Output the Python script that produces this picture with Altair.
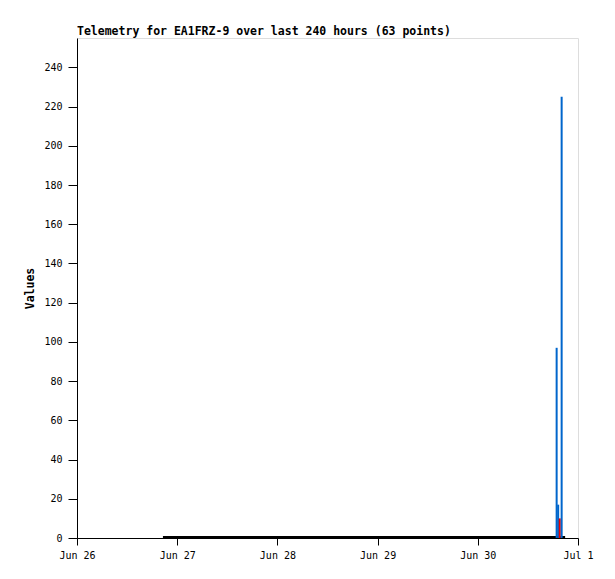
import altair as alt
import pandas as pd

# near-zero black series (drawn as a flat line just above the axis)
black_times = ["2024-06-26T20:35", "2024-06-27T10:00", "2024-06-28T02:00", "2024-06-28T18:00",
               "2024-06-29T10:00", "2024-06-30T02:00", "2024-06-30T14:00", "2024-06-30T20:55"]
black_values = [0.5, 0.5, 0.5, 0.5, 0.5, 0.5, 0.5, 0.5]

# impulse series
bar_times = ["2024-06-30T18:53", "2024-06-30T19:15", "2024-06-30T19:38", "2024-06-30T20:05"]
bar_values = [97, 17, 10, 225]
bar_series = ["blue", "blue", "red", "blue"]

colors = {"blue": "#0066cc", "red": "#ee0000"}

black_df = pd.DataFrame({"t": black_times, "v": black_values})
bar_df = pd.DataFrame({"t": bar_times, "v": bar_values, "s": bar_series})

FONT = "DejaVu Sans Mono"

x_dom = [alt.DateTime(year=2024, month=6, date=26), alt.DateTime(year=2024, month=7, date=1)]
x_vals = [alt.DateTime(year=2024, month=6, date=d) for d in range(26, 31)] + [alt.DateTime(year=2024, month=7, date=1)]

xenc = alt.X("t:T", scale=alt.Scale(domain=x_dom),
             axis=alt.Axis(values=x_vals, format="%b %-d", title=None, grid=False,
                           tickSize=7, labelPadding=5, domainColor="black", tickColor="black",
                           labelAlign="center", labelFlush=False,
                           labelFont=FONT, labelFontSize=10, labelColor="black"))
yenc = alt.Y("v:Q", scale=alt.Scale(domain=[0, 255], nice=False),
             axis=alt.Axis(values=list(range(0, 241, 20)), title="Values", grid=False,
                           tickSize=9, labelPadding=6, domainColor="black", tickColor="black",
                           labelFont=FONT, labelFontSize=10, labelColor="black",
                           titleFont=FONT, titleFontSize=11.5, titleFontWeight="bold",
                           titleColor="black", titlePadding=8))

line = alt.Chart(black_df).mark_line(color="black", strokeWidth=2, clip=True).encode(
    x=xenc, y=yenc)

bars = alt.Chart(bar_df).mark_rule(strokeWidth=2).encode(
    x=alt.X("t:T"),
    y=alt.Y("v:Q"),
    y2=alt.datum(0),
    color=alt.Color("s:N", scale=alt.Scale(domain=list(colors.keys()), range=list(colors.values())),
                    legend=None),
)

chart = alt.layer(line, bars).properties(
    width=501, height=500,
    title=alt.Title("Telemetry for EA1FRZ-9 over last 240 hours (63 points)",
                    anchor="start", frame="group", font=FONT, fontSize=11.5, fontWeight="bold",
                    color="black", offset=1),
    autosize=alt.AutoSizeParams(type="none"),
    padding={"left": 69, "top": 30, "right": 29, "bottom": 33},
).configure_view(stroke="#444444", strokeWidth=1).configure(background="white")

chart.save("out.html", embed_options={"renderer": "svg", "actions": False})
